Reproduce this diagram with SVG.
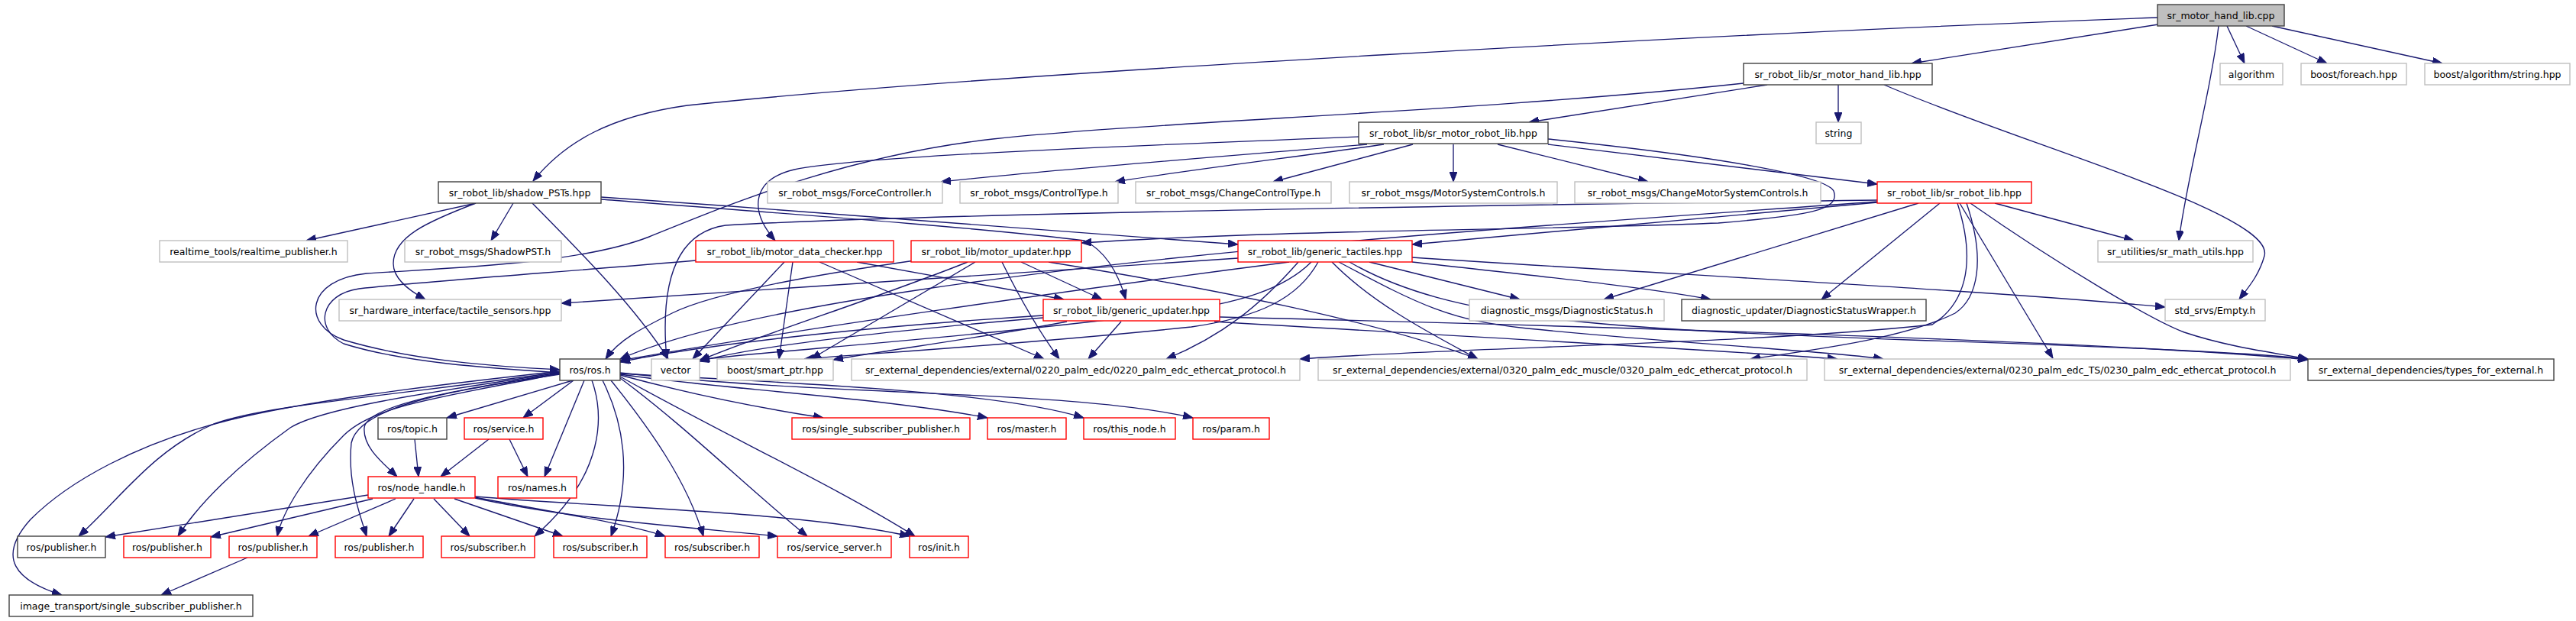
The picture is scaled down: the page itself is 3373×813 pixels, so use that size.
<svg xmlns="http://www.w3.org/2000/svg" width="3373" height="813" viewBox="0 0 3373 813">
<defs>
<marker id="ah" markerUnits="userSpaceOnUse" markerWidth="13" markerHeight="10" refX="13" refY="5" orient="auto">
<path d="M0,0 L13,5 L0,10 z" fill="#191970" stroke="#191970" stroke-width="1"/>
</marker>
<style>
.e path{fill:none;stroke:#191970;stroke-width:1.35;marker-end:url(#ah)}
.n rect{fill:#ffffff;stroke-width:1.4}
.b rect{stroke:#404040}
.g rect{stroke:#bfbfbf}
.r rect{stroke:#ff0000}
.root rect{fill:#bfbfbf;stroke:#404040}
text{font-family:"DejaVu Sans","Liberation Sans",sans-serif;font-size:12.5px;fill:#000000;text-anchor:middle}
</style>
</defs>
<rect x="0" y="0" width="3373" height="813" fill="#ffffff"/>
<g id="edges" class="e">
<path d="M2826,32 L2503,83"/>
<path d="M2825,23 C2300,42 1300,95 900,138 C800,152 740,185 698,237"/>
<path d="M2916,34 L2939,83"/>
<path d="M2941,34 L3047,83"/>
<path d="M2975,34 L3198,83"/>
<path d="M2905,34 C2895,120 2862,240 2853,315"/>
<path d="M2314,111 L2002,160"/>
<path d="M2407,111 L2407,160"/>
<path d="M2467,111 C2650,190 2980,280 2965,335 C2958,360 2945,375 2932,392"/>
<path d="M2283,109 C1950,145 1500,160 1300,182 C1100,205 950,270 850,310 C760,345 600,350 480,358 C400,366 395,425 450,445 C540,472 650,480 733,484"/>
<path d="M1779,179 C1450,192 1120,205 1040,222 C985,235 980,275 1015,315"/>
<path d="M1790,189 C1600,205 1400,220 1232,238"/>
<path d="M1812,189 C1700,205 1560,222 1460,238"/>
<path d="M1850,189 L1667,238"/>
<path d="M1903,189 L1903,238"/>
<path d="M1961,189 L2158,238"/>
<path d="M2027,189 L2458,241"/>
<path d="M2027,182 C2250,205 2390,230 2401,250 C2410,275 2370,282 2250,292 C2000,302 1700,300 1416,318"/>
<path d="M623,266 L401,315"/>
<path d="M672,266 L643,315"/>
<path d="M623,266 C560,290 515,310 515,345 C515,365 535,380 557,392"/>
<path d="M697,266 C760,330 830,400 875,470"/>
<path d="M787,258 C1100,280 1450,305 1621,320"/>
<path d="M787,261 C1100,285 1300,300 1420,315 C1450,330 1465,360 1474,392"/>
<path d="M911,341 C750,355 560,368 470,378 C420,385 410,430 450,450 C530,475 640,482 733,488"/>
<path d="M1027,343 L907,470"/>
<path d="M1038,343 L1020,470"/>
<path d="M1073,343 L1367,470"/>
<path d="M1122,343 L1393,392"/>
<path d="M1198,341 C1050,362 930,385 880,410 C840,430 810,445 793,470"/>
<path d="M1267,343 C1150,390 990,440 916,472"/>
<path d="M1277,343 L1062,470"/>
<path d="M1312,343 C1340,400 1365,440 1387,470"/>
<path d="M1337,343 L1443,392"/>
<path d="M1373,343 C1600,380 1800,420 1935,470"/>
<path d="M1366,413 C1100,430 900,455 812,474"/>
<path d="M1366,416 C1200,430 1000,450 916,473"/>
<path d="M1397,421 C1300,440 1150,460 1091,471"/>
<path d="M1468,421 L1425,470"/>
<path d="M1597,415 C2200,430 2800,450 3022,471"/>
<path d="M1590,421 C1900,440 2200,455 2406,470"/>
<path d="M1621,338 L735,397"/>
<path d="M1688,343 C1400,380 1050,430 812,472"/>
<path d="M1717,343 C1680,380 1620,395 1560,405 C1300,440 1000,460 916,471"/>
<path d="M1726,343 C1700,390 1650,415 1560,428 C1350,450 1150,462 1053,470"/>
<path d="M1700,343 C1650,400 1600,440 1527,470"/>
<path d="M1744,343 C1800,400 1880,440 1935,470"/>
<path d="M1753,343 C1860,400 1900,420 2000,430 C2200,450 2400,460 2466,470"/>
<path d="M1767,343 C1900,420 2100,430 2500,445 C2800,455 2950,462 3022,470"/>
<path d="M1793,343 L1990,392"/>
<path d="M1849,343 C2000,360 2150,375 2240,392"/>
<path d="M1849,337 C2200,360 2600,380 2835,402"/>
<path d="M2458,262 C2000,268 1200,280 950,295 C880,305 865,380 873,470"/>
<path d="M2458,265 L1849,320"/>
<path d="M2458,264 C2100,290 1600,320 1200,380 C1000,410 880,440 812,470"/>
<path d="M2612,266 L2794,315"/>
<path d="M2512,266 L2100,392"/>
<path d="M2540,266 L2385,392"/>
<path d="M2563,266 C2590,350 2570,400 2530,425 C2300,450 1900,455 1702,470"/>
<path d="M2575,266 C2600,340 2590,390 2560,410 C2500,440 2400,455 2292,470"/>
<path d="M2566,266 L2688,469"/>
<path d="M2580,266 C2700,350 2820,420 2860,435 C2920,455 2980,462 3022,470"/>
<path d="M750,498 L585,547"/>
<path d="M751,498 L685,547"/>
<path d="M765,498 L713,624"/>
<path d="M733,489 C600,510 480,530 477,560 C475,585 500,605 520,624"/>
<path d="M733,487 C500,520 350,530 280,555 C200,590 160,650 103,702"/>
<path d="M733,488 C550,515 420,535 380,560 C310,610 260,660 233,702"/>
<path d="M733,489 C580,520 490,530 450,570 C400,620 370,670 363,702"/>
<path d="M733,490 C600,510 470,530 460,580 C455,630 470,670 480,702"/>
<path d="M733,486 C560,505 400,525 300,550 C180,580 90,630 40,680 C-5,730 20,760 81,779"/>
<path d="M775,498 C790,540 795,620 700,702"/>
<path d="M789,498 C815,550 830,620 800,702"/>
<path d="M800,498 C850,560 900,630 921,702"/>
<path d="M812,495 C900,560 980,640 1057,702"/>
<path d="M812,493 C950,570 1100,640 1198,702"/>
<path d="M812,491 C900,515 1000,535 1078,547"/>
<path d="M812,490 C950,510 1150,520 1293,547"/>
<path d="M812,489 C1000,500 1300,510 1419,547"/>
<path d="M812,488 C1100,520 1400,510 1562,547"/>
<path d="M482,648 L138,703"/>
<path d="M488,653 L276,703"/>
<path d="M518,653 L404,702"/>
<path d="M542,653 L509,702"/>
<path d="M568,653 L615,702"/>
<path d="M595,653 L737,702"/>
<path d="M622,651 C720,670 820,685 871,702"/>
<path d="M622,652 C750,680 900,690 1018,702"/>
<path d="M622,650 C800,665 1050,670 1191,702"/>
<path d="M543,575 L548,624"/>
<path d="M640,575 L577,624"/>
<path d="M667,575 L691,624"/>
<path d="M324,730 L211,779"/>
</g>
<g id="n_cpp" class="n root"><rect x="2825" y="6" width="166" height="28"/><text x="2908" y="24.5">sr_motor_hand_lib.cpp</text></g>
<g id="n_mhl" class="n b"><rect x="2283" y="83" width="247" height="28"/><text x="2406.5" y="101.5">sr_robot_lib/sr_motor_hand_lib.hpp</text></g>
<g id="n_alg" class="n g"><rect x="2907" y="83" width="82" height="28"/><text x="2948" y="101.5">algorithm</text></g>
<g id="n_fe" class="n g"><rect x="3013" y="83" width="138" height="28"/><text x="3082" y="101.5">boost/foreach.hpp</text></g>
<g id="n_bas" class="n g"><rect x="3175" y="83" width="190" height="28"/><text x="3270" y="101.5">boost/algorithm/string.hpp</text></g>
<g id="n_mrl" class="n b"><rect x="1779" y="160" width="248" height="28"/><text x="1903" y="178.5">sr_robot_lib/sr_motor_robot_lib.hpp</text></g>
<g id="n_str" class="n g"><rect x="2378" y="160" width="59" height="28"/><text x="2407.5" y="178.5">string</text></g>
<g id="n_pst" class="n b"><rect x="574" y="238" width="213" height="28"/><text x="680.5" y="256.5">sr_robot_lib/shadow_PSTs.hpp</text></g>
<g id="n_fc" class="n g"><rect x="1005" y="238" width="229" height="28"/><text x="1119.5" y="256.5">sr_robot_msgs/ForceController.h</text></g>
<g id="n_ct" class="n g"><rect x="1257" y="238" width="207" height="28"/><text x="1360.5" y="256.5">sr_robot_msgs/ControlType.h</text></g>
<g id="n_cct" class="n g"><rect x="1487" y="238" width="256" height="28"/><text x="1615" y="256.5">sr_robot_msgs/ChangeControlType.h</text></g>
<g id="n_msc" class="n g"><rect x="1767" y="238" width="272" height="28"/><text x="1903" y="256.5">sr_robot_msgs/MotorSystemControls.h</text></g>
<g id="n_cmsc" class="n g"><rect x="2062" y="238" width="322" height="28"/><text x="2223" y="256.5">sr_robot_msgs/ChangeMotorSystemControls.h</text></g>
<g id="n_srl" class="n r"><rect x="2458" y="238" width="202" height="28"/><text x="2559" y="256.5">sr_robot_lib/sr_robot_lib.hpp</text></g>
<g id="n_rtp" class="n g"><rect x="209" y="315" width="246" height="28"/><text x="332" y="333.5">realtime_tools/realtime_publisher.h</text></g>
<g id="n_spst" class="n g"><rect x="530" y="315" width="205" height="28"/><text x="632.5" y="333.5">sr_robot_msgs/ShadowPST.h</text></g>
<g id="n_mdc" class="n r"><rect x="911" y="315" width="259" height="28"/><text x="1040.5" y="333.5">sr_robot_lib/motor_data_checker.hpp</text></g>
<g id="n_mu" class="n r"><rect x="1193" y="315" width="223" height="28"/><text x="1304.5" y="333.5">sr_robot_lib/motor_updater.hpp</text></g>
<g id="n_gt" class="n r"><rect x="1621" y="315" width="228" height="28"/><text x="1735" y="333.5">sr_robot_lib/generic_tactiles.hpp</text></g>
<g id="n_smu" class="n g"><rect x="2747" y="315" width="203" height="28"/><text x="2848.5" y="333.5">sr_utilities/sr_math_utils.hpp</text></g>
<g id="n_ts" class="n g"><rect x="444" y="392" width="291" height="28"/><text x="589.5" y="410.5">sr_hardware_interface/tactile_sensors.hpp</text></g>
<g id="n_gu" class="n r"><rect x="1366" y="392" width="231" height="28"/><text x="1481.5" y="410.5">sr_robot_lib/generic_updater.hpp</text></g>
<g id="n_ds" class="n g"><rect x="1924" y="392" width="255" height="28"/><text x="2051.5" y="410.5">diagnostic_msgs/DiagnosticStatus.h</text></g>
<g id="n_dsw" class="n b"><rect x="2202" y="392" width="320" height="28"/><text x="2362" y="410.5">diagnostic_updater/DiagnosticStatusWrapper.h</text></g>
<g id="n_emp" class="n g"><rect x="2835" y="392" width="131" height="28"/><text x="2900.5" y="410.5">std_srvs/Empty.h</text></g>
<g id="n_ros" class="n b"><rect x="733" y="470" width="79" height="28"/><text x="772.5" y="488.5">ros/ros.h</text></g>
<g id="n_vec" class="n g"><rect x="853" y="470" width="63" height="28"/><text x="884.5" y="488.5">vector</text></g>
<g id="n_sp" class="n g"><rect x="939" y="470" width="152" height="28"/><text x="1015" y="488.5">boost/smart_ptr.hpp</text></g>
<g id="n_e0220" class="n g"><rect x="1115" y="470" width="587" height="28"/><text x="1408.5" y="488.5">sr_external_dependencies/external/0220_palm_edc/0220_palm_edc_ethercat_protocol.h</text></g>
<g id="n_e0320" class="n g"><rect x="1726" y="470" width="640" height="28"/><text x="2046" y="488.5">sr_external_dependencies/external/0320_palm_edc_muscle/0320_palm_edc_ethercat_protocol.h</text></g>
<g id="n_e0230" class="n g"><rect x="2389" y="470" width="610" height="28"/><text x="2694" y="488.5">sr_external_dependencies/external/0230_palm_edc_TS/0230_palm_edc_ethercat_protocol.h</text></g>
<g id="n_tfe" class="n b"><rect x="3022" y="470" width="322" height="28"/><text x="3183" y="488.5">sr_external_dependencies/types_for_external.h</text></g>
<g id="n_topic" class="n b"><rect x="495" y="547" width="90" height="28"/><text x="540" y="565.5">ros/topic.h</text></g>
<g id="n_svc" class="n r"><rect x="608" y="547" width="103" height="28"/><text x="659.5" y="565.5">ros/service.h</text></g>
<g id="n_ssp" class="n r"><rect x="1037" y="547" width="233" height="28"/><text x="1153.5" y="565.5">ros/single_subscriber_publisher.h</text></g>
<g id="n_master" class="n r"><rect x="1293" y="547" width="103" height="28"/><text x="1344.5" y="565.5">ros/master.h</text></g>
<g id="n_tn" class="n r"><rect x="1419" y="547" width="120" height="28"/><text x="1479" y="565.5">ros/this_node.h</text></g>
<g id="n_param" class="n r"><rect x="1562" y="547" width="100" height="28"/><text x="1612" y="565.5">ros/param.h</text></g>
<g id="n_nh" class="n r"><rect x="482" y="624" width="140" height="28"/><text x="552" y="642.5">ros/node_handle.h</text></g>
<g id="n_names" class="n r"><rect x="652" y="624" width="103" height="28"/><text x="703.5" y="642.5">ros/names.h</text></g>
<g id="n_pub0" class="n b"><rect x="23" y="702" width="115" height="28"/><text x="80.5" y="720.5">ros/publisher.h</text></g>
<g id="n_pub1" class="n r"><rect x="162" y="702" width="114" height="28"/><text x="219" y="720.5">ros/publisher.h</text></g>
<g id="n_pub2" class="n r"><rect x="300" y="702" width="115" height="28"/><text x="357.5" y="720.5">ros/publisher.h</text></g>
<g id="n_pub3" class="n r"><rect x="439" y="702" width="115" height="28"/><text x="496.5" y="720.5">ros/publisher.h</text></g>
<g id="n_sub0" class="n r"><rect x="578" y="702" width="122" height="28"/><text x="639" y="720.5">ros/subscriber.h</text></g>
<g id="n_sub1" class="n r"><rect x="725" y="702" width="122" height="28"/><text x="786" y="720.5">ros/subscriber.h</text></g>
<g id="n_sub2" class="n r"><rect x="871" y="702" width="123" height="28"/><text x="932.5" y="720.5">ros/subscriber.h</text></g>
<g id="n_ss" class="n r"><rect x="1018" y="702" width="149" height="28"/><text x="1092.5" y="720.5">ros/service_server.h</text></g>
<g id="n_init" class="n r"><rect x="1191" y="702" width="77" height="28"/><text x="1229.5" y="720.5">ros/init.h</text></g>
<g id="n_istp" class="n b"><rect x="12" y="779" width="319" height="28"/><text x="171.5" y="797.5">image_transport/single_subscriber_publisher.h</text></g>
</svg>
